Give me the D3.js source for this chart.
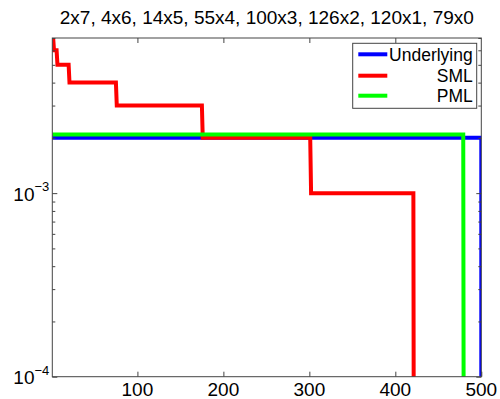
<!DOCTYPE html>
<html>
<head>
<meta charset="utf-8">
<script src="https://cdn.jsdelivr.net/npm/d3@7"></script>
<style>
  html, body { margin: 0; padding: 0; background: #fff; overflow: hidden; }
  svg { display: block; font-family: "Liberation Sans", Arial, sans-serif; }
</style>
</head>
<body>
<svg id="chart" width="500" height="399"></svg>
<script>
// Sorted symbol probabilities: groups of symbols sharing the same probability
const titleText = "2x7, 4x6, 14x5, 55x4, 100x3, 126x2, 120x1, 79x0";
const underlyingCounts = [500];
const underlyingProbs = [0.002];
const smlCounts = [2, 4, 14, 55, 100, 126, 120, 79];
const smlProbs = [0.007, 0.006, 0.005, 0.004, 0.003, 0.002, 0.001, 0];
const pmlCounts = [479, 21];
const pmlProbs = [0.002088, 0];
const xTicks = [100, 200, 300, 400, 500];
const yMajorTicks = [1e-4, 1e-3];
const yExponents = [-4, -3];
const legendNames = ["Underlying", "SML", "PML"];
const colors = ["#0000ff", "#ff0000", "#00ff00"];

const svg = d3.select("#chart");
const margin = { top: 38, right: 18.7, bottom: 22.3, left: 52.3 };
const width = +svg.attr("width");
const height = +svg.attr("height");
const innerWidth = width - margin.left - margin.right;
const innerHeight = height - margin.top - margin.bottom;
const floor = 1e-6; // stand-in for zero on the log axis, falls below the plot

const xScale = d3.scaleLinear().domain([1, 500]).range([0, innerWidth]);
const yScale = d3.scaleLog().domain([1e-4, 7e-3]).range([innerHeight, 0]);

// turn count/probability groups into one point per group edge
const toPoints = (counts, probs) => {
  const pts = [];
  let start = 1;
  counts.forEach((c, i) => {
    const p = probs[i] > 0 ? probs[i] : floor;
    pts.push([start, p]);
    pts.push([start + c - 1, p]);
    start += c;
  });
  if (probs[probs.length - 1] > 0) pts.push([start - 1, floor]);
  return pts;
};

const series = [
  toPoints(underlyingCounts, underlyingProbs),
  toPoints(smlCounts, smlProbs),
  toPoints(pmlCounts, pmlProbs),
];

const g = svg.append("g").attr("transform", `translate(${margin.left},${margin.top})`);

g.append("clipPath").attr("id", "plot-clip")
  .append("rect").attr("width", innerWidth).attr("height", innerHeight);

const line = d3.line().x((d) => xScale(d[0])).y((d) => yScale(d[1]));

g.append("g").attr("clip-path", "url(#plot-clip)")
  .selectAll("path")
  .data(series)
  .enter()
  .append("path")
  .attr("d", line)
  .attr("fill", "none")
  .attr("stroke", (d, i) => colors[i])
  .attr("stroke-width", 4)
  .attr("stroke-linejoin", "miter");

// axes box with inward ticks, MATLAB style
const axisColor = "#444";
const xAxisBottom = d3.axisBottom(xScale).tickValues(xTicks).tickSize(-5).tickFormat("");
const xAxisTop = d3.axisTop(xScale).tickValues(xTicks.slice(0, 4)).tickSize(-5).tickFormat("");

const minorTicks = yScale.ticks().filter((t) => !yMajorTicks.includes(t));

const drawY = (axisFn, tx) => {
  const major = g.append("g").attr("transform", `translate(${tx},0)`)
    .call(axisFn(yScale).tickValues(yMajorTicks).tickSize(-5).tickFormat(""));
  const minor = g.append("g").attr("transform", `translate(${tx},0)`)
    .call(axisFn(yScale).tickValues(minorTicks).tickSize(-3).tickFormat(""));
  [major, minor].forEach((a) => {
    a.select(".domain").remove();
    a.selectAll(".tick line").attr("stroke", axisColor);
  });
};
drawY(d3.axisLeft, 0);
drawY(d3.axisRight, innerWidth);

[g.append("g").attr("transform", `translate(0,${innerHeight})`).call(xAxisBottom),
 g.append("g").call(xAxisTop)].forEach((a) => {
  a.select(".domain").remove();
  a.selectAll(".tick line").attr("stroke", axisColor);
});

g.append("rect")
  .attr("width", innerWidth)
  .attr("height", innerHeight)
  .attr("fill", "none")
  .attr("stroke", axisColor)
  .attr("stroke-width", 1);

// x tick labels
g.selectAll(".xlabel")
  .data(xTicks)
  .enter()
  .append("text")
  .attr("class", "xlabel")
  .attr("x", (d) => xScale(d))
  .attr("y", innerHeight + 19.5)
  .attr("text-anchor", "middle")
  .attr("font-size", 19)
  .attr("fill", "#000")
  .text((d) => d);

// y tick labels as 10^n
const yLabels = g.selectAll(".ylabel")
  .data(yMajorTicks)
  .enter()
  .append("text")
  .attr("class", "ylabel")
  .attr("x", -3)
  .attr("y", (d) => yScale(d) + 7.5)
  .attr("text-anchor", "end")
  .attr("font-size", 19)
  .attr("fill", "#000");
yLabels.append("tspan").text("10");
yLabels.append("tspan")
  .attr("dy", -9.5)
  .attr("font-size", 13)
  .text((d, i) => "\u2212" + Math.abs(yExponents[i]));

// title
svg.append("text")
  .attr("x", margin.left + innerWidth / 2)
  .attr("y", 24)
  .attr("text-anchor", "middle")
  .attr("font-size", 19)
  .attr("fill", "#000")
  .text(titleText);

// legend
const legend = svg.append("g").attr("transform", "translate(352.7,43.3)");
legend.append("rect")
  .attr("width", 124)
  .attr("height", 65)
  .attr("fill", "#fff")
  .attr("stroke", axisColor)
  .attr("stroke-width", 1);
const legendY = [11, 32.4, 52.4];
legendNames.forEach((name, i) => {
  legend.append("line")
    .attr("x1", 5.6).attr("x2", 34.6)
    .attr("y1", legendY[i]).attr("y2", legendY[i])
    .attr("stroke", colors[i])
    .attr("stroke-width", 4);
  legend.append("text")
    .attr("x", 120)
    .attr("y", legendY[i] + 6.5)
    .attr("text-anchor", "end")
    .attr("font-size", 17.5)
    .attr("fill", "#000")
    .text(name);
});
</script>
</body>
</html>
